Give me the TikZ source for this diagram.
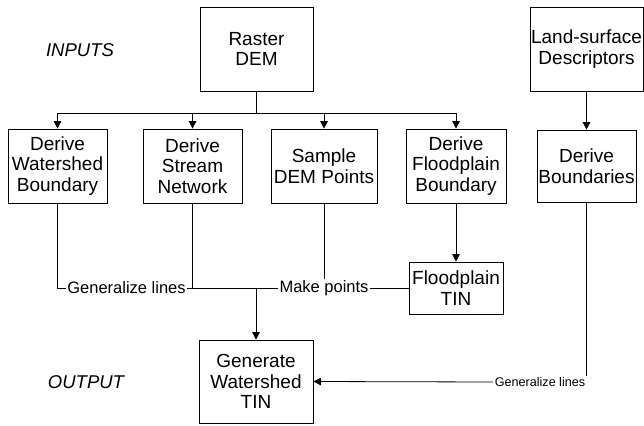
\documentclass[tikz,border=0pt]{standalone}
\usepackage{fontspec}
\setmainfont{Liberation Sans}
\usetikzlibrary{arrows.meta}
\begin{document}
\begin{tikzpicture}[x=1pt,y=-1pt,
  box/.style={draw,line width=0.8pt,align=center,inner sep=0pt,
    font={\fontsize{19}{20.5}\selectfont}},
  lbl/.style={inner sep=1.5pt,font={\fontsize{16.5}{18}\selectfont}},
  slbl/.style={inner sep=1.5pt,font={\fontsize{12.6}{14}\selectfont}},
  ttl/.style={font={\fontsize{18.5}{20}\selectfont\itshape}},
  conn/.style={line width=0.8pt},
  arr/.style={line width=0.8pt,-{Triangle[length=7.5pt,width=7.5pt]}}]
\useasboundingbox (0,0) rectangle (644,425);
% titles
\node[ttl] (inp) at (80,50) {INPUTS};
\node[ttl] (outp) at (86,382) {OUTPUT};
% boxes
\node[box,minimum width=113pt,minimum height=84pt] (dem) at (256.5,49) {Raster\\DEM};
\node[box,minimum width=113pt,minimum height=84pt] (land) at (586.5,49) {Land-surface\\Descriptors};
\node[box,minimum width=99pt,minimum height=74pt] (ws) at (57.5,166) {Derive\\Watershed\\Boundary};
\node[box,minimum width=99pt,minimum height=74pt] (sn) at (192.5,166) {Derive\\Stream\\Network};
\node[box,minimum width=106pt,minimum height=74pt] (sd) at (324,166) {Sample\\DEM Points};
\node[box,minimum width=100pt,minimum height=74pt] (fb) at (456,166) {Derive\\Floodplain\\Boundary};
\node[box,minimum width=99pt,minimum height=72pt] (db) at (586.5,166) {Derive\\Boundaries};
\node[box,minimum width=94pt,minimum height=52pt] (ft) at (456,288) {Floodplain\\TIN};
\node[box,minimum width=114pt,minimum height=83pt] (gen) at (256,381.5) {Generate\\Watershed\\TIN};
% labels
\node[lbl] (gl) at (126.5,288) {Generalize lines};
\node[lbl] (mp) at (324,288) {Make points};
\node[slbl] (gl2) at (540,382) {Generalize lines};
% top distribution
\coordinate (bus) at (256.5,113);
\draw[conn] (dem.south) -- (bus);
\draw[conn] (ws.north |- bus) -- (fb.north |- bus);
\draw[arr] (ws.north |- bus) -- (ws.north);
\draw[arr] (sn.north |- bus) -- (sn.north);
\draw[arr] (sd.north |- bus) -- (sd.north);
\draw[arr] (fb.north |- bus) -- (fb.north);
\draw[arr] (land.south) -- (db.north);
% lower connectors
\draw[conn] (ws.south) |- (gl.west);
\draw[conn] (gl.east) -- (mp.west);
\draw[conn] (sn.south) -- (sn.south |- gl.east);
\draw[conn] (sd.south) -- (mp.north);
\draw[conn] (mp.east) -- (ft.west);
\draw[arr] (fb.south) -- (ft.north);
\coordinate (jn) at (gen.north |- gl.east);
\draw[arr] (jn) -- (gen.north);
\draw[conn] (db.south) -- (db.south |- gl2.north);
\draw[arr] (gl2.west) -- (gen.east);
\end{tikzpicture}
\end{document}
